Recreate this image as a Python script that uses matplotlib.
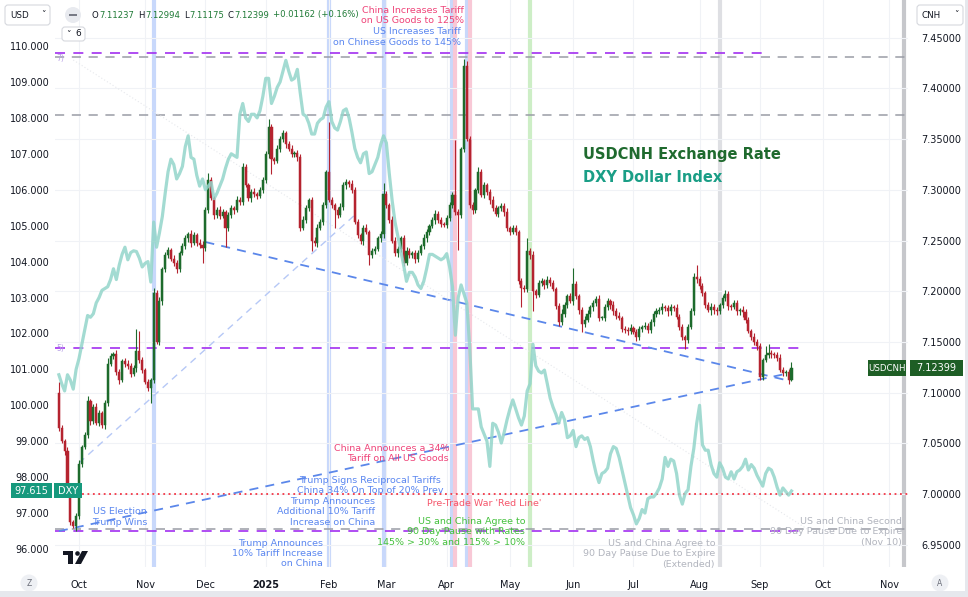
import numpy as np
import pandas as pd
import matplotlib
matplotlib.use("Agg")
import matplotlib.pyplot as plt
from matplotlib.patches import FancyBboxPatch, Circle, Rectangle, Polygon

W, H = 968, 597

# ---------------- data ----------------
first_day = "2024-09-20"
last_axis_day = "2025-11-28"
holidays = ["2024-12-25", "2025-01-01"]

usdcnh_first_open = 7.100
usdcnh_close = [
    7.065, 7.052, 7.042, 7.000, 6.972, 6.968, 6.978, 7.030, 7.046, 7.058,
    7.092, 7.072, 7.086, 7.070, 7.080, 7.068, 7.090, 7.128, 7.136, 7.138,
    7.120, 7.112, 7.131, 7.128, 7.126, 7.118, 7.124, 7.141, 7.132, 7.122,
    7.110, 7.105, 7.112, 7.198, 7.150, 7.190, 7.222, 7.236, 7.241,
    7.232, 7.228, 7.222, 7.238, 7.245, 7.252, 7.256, 7.248, 7.255, 7.248,
    7.246, 7.243, 7.280, 7.310, 7.292, 7.275, 7.280, 7.274, 7.278, 7.262,
    7.275, 7.282, 7.280, 7.290, 7.288, 7.322, 7.305, 7.292, 7.298, 7.296,
    7.294, 7.300, 7.310, 7.335, 7.362,
    7.330, 7.328, 7.340, 7.350,
    7.356, 7.345, 7.340, 7.335, 7.336, 7.332, 7.262, 7.270, 7.282, 7.290,
    7.250, 7.248, 7.262, 7.268, 7.285, 7.318, 7.290, 7.285, 7.280, 7.275,
    7.283, 7.305, 7.308, 7.306, 7.300, 7.268, 7.255, 7.250, 7.262, 7.258,
    7.236, 7.240, 7.242, 7.252, 7.256, 7.296, 7.285, 7.270, 7.250, 7.238,
    7.242,
    7.252, 7.228, 7.240, 7.236, 7.238, 7.232, 7.238, 7.245,
    7.252, 7.258, 7.264, 7.270, 7.276, 7.270, 7.266, 7.265, 7.272, 7.285,
    7.295, 7.278, 7.275, 7.340, 7.422, 7.350, 7.285, 7.280, 7.300, 7.318,
    7.295, 7.305, 7.298, 7.290, 7.282, 7.276, 7.282, 7.284, 7.278, 7.262,
    7.258, 7.262, 7.258, 7.210, 7.203, 7.202,
    7.240, 7.236, 7.200,
    7.196, 7.208, 7.210, 7.206, 7.211, 7.208, 7.202, 7.185, 7.170, 7.178,
    7.186, 7.195, 7.190, 7.207, 7.195, 7.181, 7.168, 7.172, 7.178, 7.184,
    7.188, 7.192, 7.174, 7.174, 7.184, 7.190, 7.186, 7.180, 7.176, 7.174,
    7.163, 7.162, 7.161, 7.164, 7.160, 7.155, 7.163, 7.165, 7.166, 7.162,
    7.170, 7.178,
    7.180, 7.181, 7.184, 7.183, 7.180, 7.184, 7.183,
    7.175, 7.165, 7.155, 7.152, 7.165, 7.180, 7.214, 7.212, 7.205, 7.198,
    7.186, 7.181, 7.184, 7.181, 7.180, 7.186, 7.193, 7.197, 7.185, 7.184,
    7.188, 7.180, 7.181, 7.179, 7.172, 7.161, 7.155, 7.150, 7.146, 7.115,
    7.132, 7.137, 7.139, 7.138, 7.137, 7.134, 7.122, 7.119, 7.120, 7.11237, 7.12399,
]

# wick lengths above / below the body, in 0.001 units
wick_up = [
    10, 3, 2, 4, 3, 2, 3, 4, 2, 3, 5, 2, 3, 4, 3, 2,
    3, 6, 3, 2, 4, 3, 2, 3, 4, 3, 3, 22, 20, 3, 2, 3,
    2, 5, 3, 4, 2, 3, 3, 2, 4, 3, 2, 3, 3, 2, 4, 3,
    2, 3, 4, 3, 7, 3, 2, 3, 4, 3, 2, 3, 3, 2, 4, 3,
    4, 3, 2, 3, 4, 2, 3, 3, 3, 8, 3, 2, 4, 3, 3, 2,
    3, 4, 2, 3, 3, 4, 3, 2, 3, 3, 4, 3, 3, 2, 49, 3,
    2, 3, 4, 3, 3, 2, 4, 3, 3, 2, 3, 4, 2, 3, 3, 2,
    3, 11, 3, 2, 4, 3, 3, 2, 3, 4, 3, 2, 3, 3, 2, 4,
    3, 2, 3, 4, 3, 3, 2, 3, 3, 3, 54, 3, 2, 7, 5, 3,
    3, 2, 4, 3, 3, 2, 3, 4, 3, 2, 3, 3, 4, 2, 3, 3,
    2, 3, 3, 12, 3, 4, 2, 3, 3, 2, 4, 3, 3, 2, 3, 4,
    3, 2, 3, 16, 3, 2, 3, 4, 3, 2, 3, 3, 4, 2, 3, 3,
    2, 4, 3, 3, 2, 3, 3, 4, 2, 3, 3, 2, 4, 3, 3, 2,
    3, 3, 4, 2, 3, 3, 2, 4, 3, 3, 2, 3, 3, 4, 12, 3,
    3, 2, 3, 4, 3, 3, 2, 3, 4, 3, 2, 3, 3, 2, 4, 3,
    3, 2, 4, 3, 3, 2, 9, 9, 3, 2, 3, 4, 3, 2, 3, 6,
]
wick_dn = [
    3, 2, 4, 3, 3, 2, 4, 3, 3, 2, 3, 4, 3, 2, 3, 3,
    4, 3, 2, 3, 3, 4, 2, 3, 3, 3, 2, 4, 3, 3, 2, 3,
    15, 3, 2, 3, 4, 3, 3, 2, 3, 4, 3, 2, 3, 3, 4, 2,
    3, 3, 15, 3, 3, 2, 4, 3, 3, 2, 18, 3, 3, 4, 2, 3,
    3, 2, 3, 4, 3, 3, 2, 3, 3, 4, 14, 3, 2, 3, 3, 4,
    2, 3, 3, 4, 3, 2, 3, 3, 10, 3, 4, 2, 3, 3, 2, 3,
    18, 3, 2, 3, 4, 3, 3, 2, 3, 3, 4, 2, 10, 3, 3, 2,
    3, 4, 3, 3, 2, 3, 4, 3, 3, 2, 3, 3, 4, 3, 2, 3,
    3, 3, 2, 4, 3, 3, 2, 3, 3, 3, 3, 34, 3, 3, 2, 3,
    4, 3, 3, 2, 3, 3, 4, 3, 2, 3, 3, 4, 3, 3, 2, 3,
    3, 19, 3, 3, 4, 20, 3, 2, 3, 4, 3, 3, 2, 3, 4, 3,
    3, 3, 2, 4, 3, 3, 8, 3, 2, 3, 4, 3, 3, 2, 3, 3,
    4, 3, 3, 2, 3, 3, 4, 3, 2, 4, 3, 3, 2, 3, 3, 4,
    3, 2, 3, 3, 4, 3, 3, 2, 3, 3, 9, 3, 2, 3, 4, 3,
    3, 3, 2, 4, 3, 3, 2, 3, 3, 4, 3, 2, 3, 3, 4, 3,
    2, 3, 3, 4, 3, 3, 2, 3, 4, 3, 3, 2, 3, 3, 4, 1,
]

dxy_close = [
    100.85, 100.6, 100.4, 100.85, 100.7, 100.45, 101.0, 101.3, 101.7, 102.1,
    102.5, 102.45, 102.55, 102.85, 103.0, 103.2, 103.25, 103.3, 103.5, 103.8,
    103.5, 103.9, 104.2, 104.4, 104.05, 104.25, 104.3, 104.28, 104.1, 103.85,
    103.95, 104.0, 103.43, 105.1, 104.4, 104.8, 105.25, 105.9, 106.5, 106.85,
    106.7, 106.3, 106.45, 106.65, 107.2, 107.5, 106.9, 106.85, 106.4, 106.1,
    106.3, 106.0, 106.1, 106.2, 105.75, 105.9, 106.1, 106.3, 106.6, 106.85,
    107.0, 106.95, 106.9, 108.1, 108.4, 108.0, 107.9, 108.1, 108.1, 108.0,
    108.2, 108.6, 109.1, 109.1, 108.4, 108.6, 108.85, 109.0, 109.3, 109.6,
    109.3, 109.05, 109.1, 109.35, 108.7, 108.1, 108.05, 107.85, 107.55, 107.55,
    107.85, 107.95, 108.0, 108.3, 108.45, 107.9, 107.72, 107.66, 107.9, 108.2,
    108.25, 108.0, 107.6, 107.15, 106.9, 106.75, 107.0, 107.05, 106.45, 106.5,
    106.7, 106.9, 107.25, 107.5, 107.3, 106.45, 105.7, 105.1, 104.7, 104.3,
    103.9, 103.45, 103.7, 103.7, 103.57, 103.35, 103.25, 103.45, 103.8, 104.2,
    104.2, 104.15, 104.1, 104.05, 104.1, 104.22, 103.85, 103.3, 101.95, 103.0,
    103.35, 103.1, 102.85, 101.6, 99.9, 99.9, 99.9, 99.4, 99.2, 99.0,
    98.3, 99.5, 99.45, 99.25, 98.95, 99.25, 99.6, 99.9, 100.15, 99.9,
    99.65, 99.45, 99.7, 100.4, 100.6, 101.7, 101.1, 100.95, 100.9, 100.98,
    100.6, 100.2, 99.95, 99.75, 99.5, 99.8, 99.6, 99.1, 99.15, 99.3,
    98.85, 99.1, 99.15, 99.05, 99.1, 98.85, 98.45, 98.1, 97.85, 98.1,
    98.15, 98.25, 98.65, 98.85, 98.8, 98.55, 98.2, 97.85, 97.5, 97.15,
    96.95, 96.7, 96.85, 97.1, 97.0, 97.4, 97.45, 97.45, 97.55, 97.7,
    97.95, 98.55, 98.3, 98.5, 98.45, 98.1, 97.5, 97.25, 97.55, 97.65,
    98.3, 98.8, 99.5, 100.0, 98.9, 98.75, 98.75, 98.35, 98.1, 98.0,
    98.4, 98.25, 98.0, 97.95, 98.15, 97.95, 98.15, 98.2, 98.3, 98.5,
    98.2, 98.35, 98.25, 98.05, 97.9, 97.75, 98.1, 98.25, 98.2, 98.0,
    97.72, 97.5, 97.7, 97.6, 97.5, 97.615,
]

header_ohlc = [("O", "7.11237"), ("H", "7.12994"), ("L", "7.11175"), ("C", "7.12399")]
header_change = "+0.01162 (+0.16%)"

# drawn levels on the USDCNH scale: (price, end date)
purple_levels = [(7.4349, "2025-09-04"), (7.1440, "2025-09-19"), (6.9635, "2025-09-23")]
gray_levels = [7.4305, 7.3738, 6.9655]
red_line = 7.0

# event markers
events = [
    ("2024-11-06", "#c8d8fb"), ("2025-02-03", "#c8d8fb"), ("2025-02-28", "#c8d8fb"),
    ("2025-04-03", "#c8d8fb"), ("2025-04-04", "#f8c8d6"), ("2025-04-10", "#c8d8fb"),
    ("2025-04-11", "#f8c8d6"), ("2025-05-12", "#cdeec6"), ("2025-08-12", "#dedfe3"),
    ("2025-11-10", "#c6c7cb"),
]

# trend lines: start date, price, end date, price, colour, width, dash
trend_lines = [
    ("2024-12-02", 7.2485, "2025-09-12", 7.1124, "#5b87ea", 1.3, (0, (5, 4))),
    ("2024-09-20", 6.9634, "2025-09-15", 7.1191, "#5b87ea", 1.3, (0, (5, 4))),
    ("2024-10-01", 7.0306, "2025-02-14", 7.2751, "#b6c8f6", 1.0, (0, (5, 4))),
    ("2024-09-27", 7.4280, "2025-09-24", 6.9645, "#e6e8ec", 0.8, (0, (1, 2))),
]

BLUE = "#5b87f0"
PINK = "#ef4479"
GREEN_TXT = "#45c13d"
GRAY_TXT = "#b2b5be"
RED_TXT = "#f5566b"

notes = [
    ("China Increases Tariff\non US Goods to 125%", 464, 15.5, PINK, "right"),
    ("US Increases Tariff\non Chinese Goods to 145%", 461, 37, BLUE, "right"),
    ("China Announces a 34%\nTariff on All US Goods", 449, 453.5, PINK, "right"),
    ("Trump Signs Reciprocal Tariffs\nChina 34% On Top of 20% Prev", 370, 485.5, BLUE, "center"),
    ("Pre-Trade War 'Red Line'", 484, 503, RED_TXT, "center"),
    ("US and China Agree to\n90 Day Pause with Rates\n145% > 30% and 115% > 10%", 525, 532, GREEN_TXT, "right"),
    ("US Election\nTrump Wins", 147, 517, BLUE, "right"),
    ("Trump Announces\nAdditional 10% Tariff\nIncrease on China", 375, 512, BLUE, "right"),
    ("Trump Announces\n10% Tariff Increase\non China", 323, 553.5, BLUE, "right"),
    ("US and China Agree to\n90 Day Pause Due to Expire\n(Extended)", 715, 554, GRAY_TXT, "right"),
    ("US and China Second\n90 Day Pause Due to Expire\n(Nov 10)", 902, 532, GRAY_TXT, "right"),
]

# ---------------- layout ----------------
plt.rcParams["font.family"] = "DejaVu Sans"
fig = plt.figure(figsize=(W / 100, H / 100), dpi=100)
fig.patch.set_facecolor("white")

ax = fig.add_axes([55 / W, 1 - 567 / H, 853 / W, 567 / H])
ax.set_facecolor("white")
ax2 = ax.twinx()

days = pd.bdate_range(first_day, last_axis_day)
days = days[~days.isin(pd.to_datetime(holidays))]
bar_x = np.arange(len(days)) - days.get_loc(pd.Timestamp("2024-10-01"))


def bar_of(d):
    return bar_x[days.get_loc(pd.Timestamp(d))]


x_left, x_right = -8.35, 288.55
ax.set_xlim(x_left, x_right)
ax.set_ylim(6.92801, 7.48718)

# month ticks
per = days.to_period("M")
new_month = np.r_[False, per[1:] != per[:-1]]
tick_pos = bar_x[new_month]
tick_lab = ["2025" if d.month == 1 else d.strftime("%b") for d in days[new_month]]
ax.set_xticks(tick_pos)
ax.set_xticklabels(tick_lab, fontsize=7, color="#131722")
for t in ax.get_xticklabels():
    if t.get_text() == "2025":
        t.set_fontweight("bold")
ax.tick_params(axis="x", length=0, pad=9)

price_ticks = np.arange(6.95, 7.4501, 0.05)
ax.set_yticks(price_ticks)
ax.set_yticklabels([f"{v:.5f}" for v in price_ticks], fontsize=7, color="#131722")
ax.yaxis.set_ticks_position("right")
ax.tick_params(axis="y", length=0, pad=9.5, left=False, labelleft=False,
               right=True, labelright=True)
ax.grid(True, color="#f0f2f6", lw=0.8, zorder=0)
for s in ax.spines.values():
    s.set_visible(False)

# event bands
for d, c in events:
    ax.axvline(bar_of(d), color=c, lw=3.0, zorder=1)

# levels
ax.axhline(red_line, color="#f23645", lw=1.3, ls=(0, (1, 2)), zorder=2)
for lvl in gray_levels:
    ax.axhline(lvl, color="#9a9da6", lw=1.1, ls=(0, (6, 5)), zorder=2)
for lvl, end in purple_levels:
    ax.hlines(lvl, x_left, bar_of(end), color="#a22ff0", lw=1.2, ls=(0, (6, 5)), zorder=2)

for d0, p0, d1, p1, c, lw, ls in trend_lines:
    ax.plot([bar_of(d0), bar_of(d1)], [p0, p1], color=c, lw=lw, ls=ls, zorder=2)

# candles
close = np.array(usdcnh_close)
n = len(close)
xc = bar_x[:n]
opn = np.r_[usdcnh_first_open, close[:-1]]
high = np.maximum(opn, close) + np.array(wick_up) / 1000
low = np.minimum(opn, close) - np.array(wick_dn) / 1000
cols = np.where(close >= opn, "#1d6b2c", "#b5232f")
ax.vlines(xc, low, high, colors=cols, lw=0.8, zorder=3)
ax.bar(xc, np.maximum(np.abs(close - opn), 0.0008), bottom=np.minimum(opn, close),
       width=0.72, color=cols, edgecolor=cols, lw=0.35, zorder=4)

# DXY on the left scale
ax2.set_ylim(95.4997, 111.2803)
ax2.set_xlim(x_left, x_right)
dxy_ticks = np.arange(96, 110.5, 1)
ax2.set_yticks(dxy_ticks)
ax2.set_yticklabels([f"{v:.3f}" for v in dxy_ticks], fontsize=7, color="#131722")
ax2.yaxis.set_ticks_position("left")
ax2.tick_params(axis="y", length=0, pad=4, left=True, labelleft=True,
                right=False, labelright=False)
for s in ax2.spines.values():
    s.set_visible(False)
dxy = np.array(dxy_close)
ax2.plot(bar_x[:len(dxy)], dxy, color="#93d5ca", lw=2.3, alpha=0.85, zorder=5,
         solid_joinstyle="round")

# ---------------- overlay (pixel coordinates) ----------------
ov = fig.add_axes([0, 0, 1, 1], zorder=10)
ov.set_xlim(0, W)
ov.set_ylim(H, 0)
ov.axis("off")


def to_px(axis, x, y):
    dx, dy = axis.transData.transform((x, y))
    return dx, H - dy


for txt, x, y, c, ha in notes:
    ov.text(x, y, txt, color=c, fontsize=6.8, ha=ha, va="center", multialignment=ha,
            linespacing=1.15)

ov.text(583, 155, "USDCNH Exchange Rate", color="#1f6a2e", fontsize=10.5,
        fontweight="bold", va="center")
ov.text(583, 177, "DXY Dollar Index", color="#1a9e86", fontsize=10.5,
        fontweight="bold", va="center")

# level labels cut by the scale
ov.text(56, 58, "7)", color="#b9a3e6", fontsize=5.5, va="center")
ov.text(56, 348, "5)", color="#b9a3e6", fontsize=5.5, va="center")

# last value tags
_, yc = to_px(ax, xc[-1], close[-1])
ov.add_patch(Rectangle((868, yc - 8), 38, 16, fc="#1e5e25", ec="none"))
ov.text(887, yc, "USDCNH", color="white", fontsize=6.2, ha="center", va="center")
ov.add_patch(Rectangle((910, yc - 8), 53, 16, fc="#1e5e25", ec="none"))
ov.text(936.5, yc, f"{close[-1]:.5f}", color="white", fontsize=7, ha="center", va="center")

_, yd = to_px(ax2, xc[-1], dxy[-1])
ov.add_patch(Rectangle((11, yd - 7.5), 41, 15, fc="#16997d", ec="none"))
ov.text(31.5, yd, f"{dxy[-1]:.3f}", color="white", fontsize=7, ha="center", va="center")
ov.add_patch(Rectangle((54, yd - 7.5), 28, 15, fc="#16997d", ec="none"))
ov.text(68, yd, "DXY", color="white", fontsize=7, ha="center", va="center")

# header
ov.add_patch(FancyBboxPatch((5, 5), 45, 20, boxstyle="round,pad=0,rounding_size=3",
                            fc="white", ec="#d6d8de", lw=0.8))
ov.text(10, 15, "USD", fontsize=6.3, color="#131722", va="center")
ov.text(43, 15, "˅", fontsize=6.5, color="#131722", va="center", ha="center")
ov.add_patch(Circle((73, 15), 8, fc="#e8eaef", ec="none"))
ov.add_patch(Rectangle((69, 14.2), 8, 1.8, fc="#787b86", ec="none"))
ov.add_patch(FancyBboxPatch((62, 27), 23, 14, boxstyle="round,pad=0,rounding_size=3",
                            fc="white", ec="#d6d8de", lw=0.8))
ov.text(68, 34, "˅", fontsize=6.5, color="#131722", va="center", ha="center")
ov.text(78, 34, "6", fontsize=6.5, color="#131722", va="center", ha="center")

# OHLC line laid out piece by piece
renderer = fig.canvas.get_renderer()
hx = 92.0
pieces = []
for lab, val in header_ohlc:
    pieces += [(lab, "#131722", 0.5), (val, "#1f7a36", 4.0)]
pieces.append((header_change, "#1f7a36", 0))
for s, c, gap in pieces:
    t = ov.text(hx, 15, s, fontsize=6.1, color=c, va="center", ha="left")
    wpx = t.get_window_extent(renderer=renderer).width
    hx += wpx + gap

ov.add_patch(FancyBboxPatch((917, 5), 46, 20, boxstyle="round,pad=0,rounding_size=3",
                            fc="white", ec="#d6d8de", lw=0.8))
ov.text(922, 15, "CNH", fontsize=6.3, color="#131722", va="center")
ov.text(956, 15, "˅", fontsize=6.5, color="#131722", va="center", ha="center")

# bottom chrome
ov.add_patch(Circle((29, 583), 8.5, fc="#eef0f4", ec="none"))
ov.text(29, 583, "Z", fontsize=5.5, color="#6a6d78", ha="center", va="center")
ov.add_patch(Circle((940, 583), 8.5, fc="#eef0f4", ec="none"))
ov.text(940, 583, "A", fontsize=5.5, color="#6a6d78", ha="center", va="center")
ov.add_patch(Rectangle((0, 591), W, 6, fc="#e6e8ed", ec="none"))
ov.add_patch(Rectangle((965, 0), 3, H, fc="#e6e8ed", ec="none"))

# logo
ov.add_patch(Rectangle((63, 551), 10, 4, fc="#131722", ec="none"))
ov.add_patch(Rectangle((68, 551), 5, 13, fc="#131722", ec="none"))
ov.add_patch(Circle((77.5, 553.5), 2.3, fc="#131722", ec="none"))
ov.add_patch(Polygon([(82, 551), (88, 551), (81, 564), (75, 564)], closed=True,
                     fc="#131722", ec="none"))

fig.savefig("out.png", dpi=100)
